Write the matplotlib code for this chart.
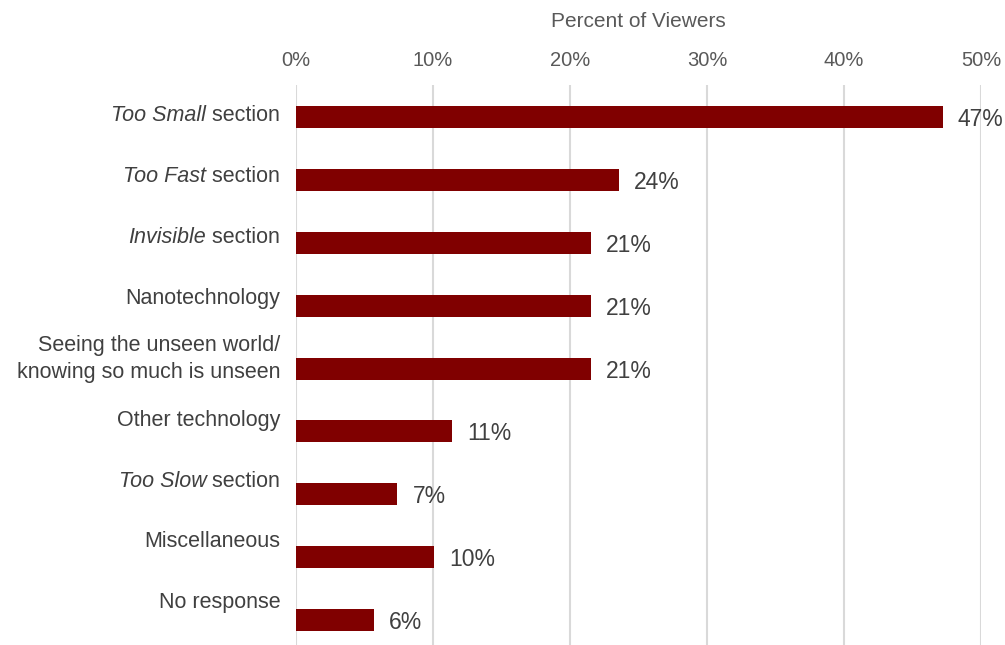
import matplotlib
matplotlib.use("Agg")
import matplotlib.pyplot as plt
import numpy as np

# datos
categorias = [
    ("Too Small", " section"),
    ("Too Fast", " section"),
    ("Invisible", " section"),
    ("", "Nanotechnology"),
    ("", "Seeing the unseen world/\nknowing so much is unseen"),
    ("", "Other technology"),
    ("Too Slow", " section"),
    ("", "Miscellaneous"),
    ("", "No response"),
]
valores = [47.2, 23.6, 21.5, 21.5, 21.5, 11.4, 7.4, 10.1, 5.7]
etiquetas = ["47%", "24%", "21%", "21%", "21%", "11%", "7%", "10%", "6%"]
ticks_x = [0, 10, 20, 30, 40, 50]

plt.rcParams["font.family"] = ["Liberation Sans", "DejaVu Sans"]

rojo = "#800000"
gris_texto = "#404040"
gris_ticks = "#595959"

fig = plt.figure(figsize=(10.05, 6.45), dpi=100)
ax = fig.add_axes([0.2945, 0.0, 0.6816, 0.868])

pos = np.arange(len(valores))
ax.barh(pos, valores, height=0.35, color=rojo, zorder=3)
ax.set_xlim(0, 50)
ax.set_ylim(8.4, -0.51)

ax.xaxis.tick_top()
ax.set_xticks(ticks_x)
ax.set_xticklabels([f"{t}%" for t in ticks_x], fontsize=14.5, color=gris_ticks)
ax.tick_params(axis="x", length=0, pad=11)
ax.xaxis.set_label_position("top")
ax.set_xlabel("Percent of Viewers", fontsize=15, color=gris_ticks, labelpad=17)
ax.grid(axis="x", color="#d9d9d9", linewidth=1.5, zorder=0)
for s in ax.spines.values():
    s.set_visible(False)
ax.set_yticks([])

# etiquetas de categoria, un poco por encima de la barra
trans = ax.get_yaxis_transform()
fs = 15.5
for i, (it, resto) in enumerate(categorias):
    y = pos[i] - (0.03 + 0.03 * pos[i])
    if it:
        t2 = ax.text(-0.023, y, resto, transform=trans, ha="right", va="center",
                     fontsize=fs, color=gris_texto)
        fig.canvas.draw()
        bb = t2.get_window_extent()
        x_ax = ax.transAxes.inverted().transform((bb.x0, 0))[0]
        ax.text(x_ax, y, it, transform=trans, ha="right", va="center",
                fontsize=fs, color=gris_texto, style="italic")
    else:
        ax.text(-0.023, y, resto, transform=trans, ha="right", va="center",
                fontsize=fs, color=gris_texto, linespacing=1.35)

for i, v in enumerate(valores):
    ax.text(v + 1.1, pos[i] + 0.04, etiquetas[i], ha="left", va="center",
            fontsize=16.5, color=gris_texto, zorder=4)

fig.savefig("out.png", dpi=100, facecolor="white")
